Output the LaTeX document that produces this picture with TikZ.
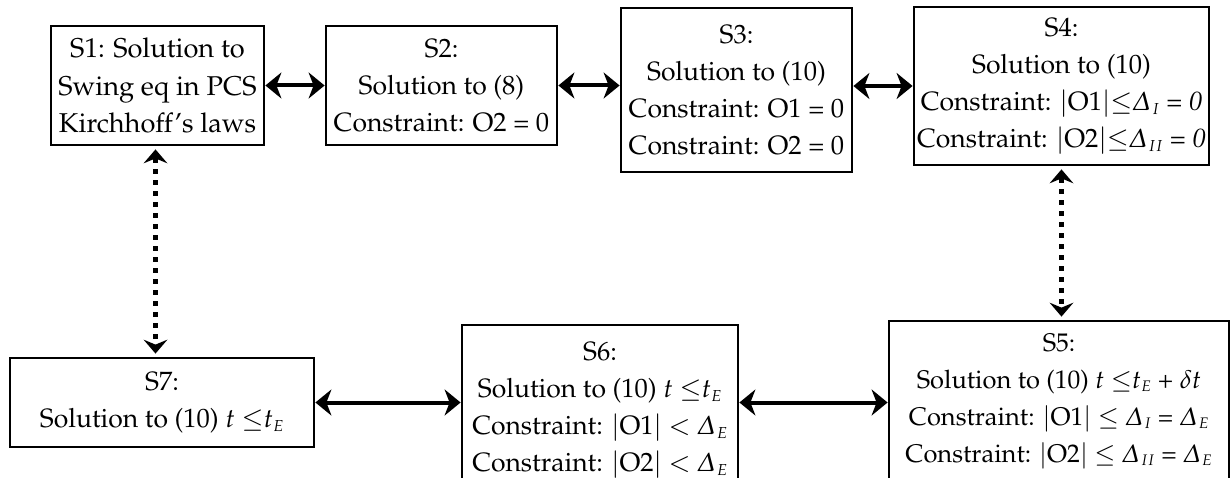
\documentclass[tikz,border=0pt]{standalone}
\usepackage[T1]{fontenc}
\usepackage[slantedGreek]{mathpazo}
\usetikzlibrary{arrows.meta}
\newcommand\sub[1]{_{\scriptscriptstyle #1}}
\tikzset{
  box/.style={draw, line width=2.8pt, align=center, inner sep=0pt,
    font=\fontsize{26.5}{37}\selectfont},
  link/.style={line width=4pt, {Stealth[length=16pt,width=26pt,inset=5pt]}-{Stealth[length=16pt,width=26pt,inset=5pt]}},
  dotlink/.style={line width=4.5pt, dash pattern=on 4.5pt off 6.5pt,
    {Stealth[length=14pt,width=24pt,inset=5pt,line width=0pt]}-{Stealth[length=14pt,width=24pt,inset=5pt,line width=0pt]}, shorten <=3pt, shorten >=3pt}
}
\begin{document}
\begin{tikzpicture}[x=1pt,y=-1pt]
\useasboundingbox (0,0) rectangle (1231,478);
\begin{scope}
\clip (0,0) rectangle (1231,478);
\node[box, font=\fontsize{27.2}{37.5}\selectfont, minimum width=213pt, minimum height=119pt] (S1) at (157.5,85.5)
  {S1: Solution to\\Swing eq in PCS\\Kirchhoff's laws};
\node[box, minimum width=231pt, minimum height=119pt] (S2) at (441.5,85.5)
  {S2:\\Solution to (8)\\Constraint: O2 = 0};
\node[box, minimum width=231pt, minimum height=164pt] (S3) at (736.5,90)
  {S3:\\Solution to (10)\\Constraint: O1 = 0\\Constraint: O2 = 0};
\node[box, minimum width=295pt, minimum height=158pt] (S4) at (1061.5,86)
  {S4:\\Solution to (10)\\Constraint: $|$O1$|{\le}\Delta\sub{I}$ = \textit{0}\\Constraint: $|$O2$|{\le}\Delta\sub{II}$ = \textit{0}};
\node[box, minimum width=304pt, minimum height=89pt] (S7) at (162,402.5)
  {S7:\\Solution to (10) $t$ ${\le}t\sub{E}$};
\node[box, minimum width=276pt, minimum height=170pt] (S6) at (600,410)
  {S6:\\Solution to (10) $t$ ${\le}t\sub{E}$\\Constraint: $|$O1$|$ $<$ $\Delta\sub{E}$\\Constraint: $|$O2$|$ $<$ $\Delta\sub{E}$};
\node[box, font=\fontsize{25.5}{37}\selectfont, minimum width=340pt, minimum height=160pt] (S5) at (1059,401)
  {S5:\\Solution to (10) $t$ ${\le}t\sub{E}$ + $\delta t$\\Constraint: $|$O1$|$ $\le$ $\Delta\sub{I}$ = $\Delta\sub{E}$\\Constraint: $|$O2$|$ $\le$ $\Delta\sub{II}$ = $\Delta\sub{E}$};
\end{scope}
\draw[link] (S1.east) -- (S1.east -| S2.west);
\draw[link] (S2.east) -- (S2.east -| S3.west);
\draw[link] (S4.west -| S3.east) -- (S4.west);
\draw[link] (S7.east) -- (S7.east -| S6.west);
\draw[link] (S7.east -| S6.east) -- (S7.east -| S5.west);
\draw[dotlink] ([xshift=-2pt]S1.south) -- ([xshift=-2pt]S1.south |- S7.north);
\draw[dotlink] (S4.south) -- (S4.south |- S5.north);
\end{tikzpicture}
\end{document}
